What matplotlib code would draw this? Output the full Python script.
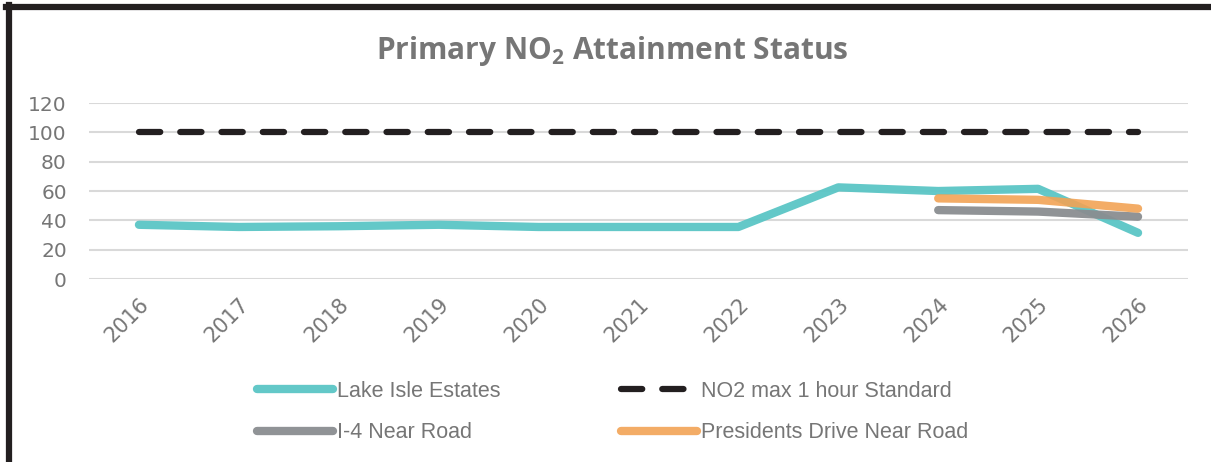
import matplotlib
matplotlib.use("Agg")
import matplotlib.pyplot as plt
from matplotlib.lines import Line2D
import numpy as np

# data
years = ["2016", "2017", "2018", "2019", "2020", "2021", "2022", "2023", "2024", "2025", "2026"]
lake_isle = [37, 35.5, 36, 37, 35.5, 35.5, 35.5, 62.5, 60, 61.5, 31.5]
no2_standard = [100, 100, 100, 100, 100, 100, 100, 100, 100, 100, 100]
i4_near_road = [np.nan] * 8 + [47, 46, 42.5]
presidents_drive = [np.nan] * 8 + [55, 54, 48]

text_grey = "#767676"

plt.rcParams["font.family"] = ["DejaVu Sans"]
plt.rcParams["mathtext.fontset"] = "custom"
plt.rcParams["mathtext.rm"] = "Open Sans:bold"
plt.rcParams["mathtext.bf"] = "Open Sans:bold"

fig = plt.figure(figsize=(12.11, 4.62), dpi=100)
ax = fig.add_axes([0.0735, 0.396, 0.9075, 0.381])

x = np.arange(len(years))
ax.plot(x, lake_isle, color="#5BC5C5", lw=6, alpha=0.95, solid_capstyle="round",
        solid_joinstyle="round", label="Lake Isle Estates")
ax.plot(x, no2_standard, color="#231F20", lw=4.5, dashes=(3.4, 3.2), dash_capstyle="round",
        label="NO2 max 1 hour Standard")
ax.plot(x, i4_near_road, color="#8A8D90", lw=6, alpha=0.95, solid_capstyle="round",
        label="I-4 Near Road")
ax.plot(x, presidents_drive, color="#F2A355", lw=6, alpha=0.9, solid_capstyle="round",
        label="Presidents Drive Near Road")

ax.set_xlim(-0.5, len(years) - 0.5)
ax.set_ylim(0, 120)
ax.set_yticks(np.arange(0, 121, 20))
ax.set_xticks(x)
ax.set_xticklabels(years, rotation=45, ha="right", rotation_mode="anchor")
ax.tick_params(axis="both", length=0, colors=text_grey)
ax.tick_params(axis="x", pad=11, labelsize=15)
ax.tick_params(axis="y", pad=16, labelsize=14.5)
ax.grid(axis="y", color="#D9D9D9", lw=1.5)
ax.set_axisbelow(True)
for s in ax.spines.values():
    s.set_visible(False)

fig.text(0.506, 0.89, r"Primary NO$_\mathbf{2}$ Attainment Status", ha="center", va="center",
         fontsize=21.5, fontweight="bold", color=text_grey, family="Open Sans")

handles, labels = ax.get_legend_handles_labels()
order = [0, 2, 1, 3]
leg = fig.legend([handles[i] for i in order], [labels[i] for i in order], ncol=2,
                 loc="center", bbox_to_anchor=(0.506, 0.108), frameon=False,
                 prop={"family": "Liberation Sans", "size": 15.5}, labelcolor=text_grey,
                 handlelength=3.5, handletextpad=0.2, columnspacing=5.6, labelspacing=0.95)

# black frame lines at top and left edge
fig.add_artist(Line2D([0.005, 1], [0.985, 0.985], transform=fig.transFigure, color="#231F20", lw=4.5))
fig.add_artist(Line2D([0.0075, 0.0075], [0, 0.99], transform=fig.transFigure, color="#231F20", lw=4.5))

fig.savefig("out.png", dpi=100)
